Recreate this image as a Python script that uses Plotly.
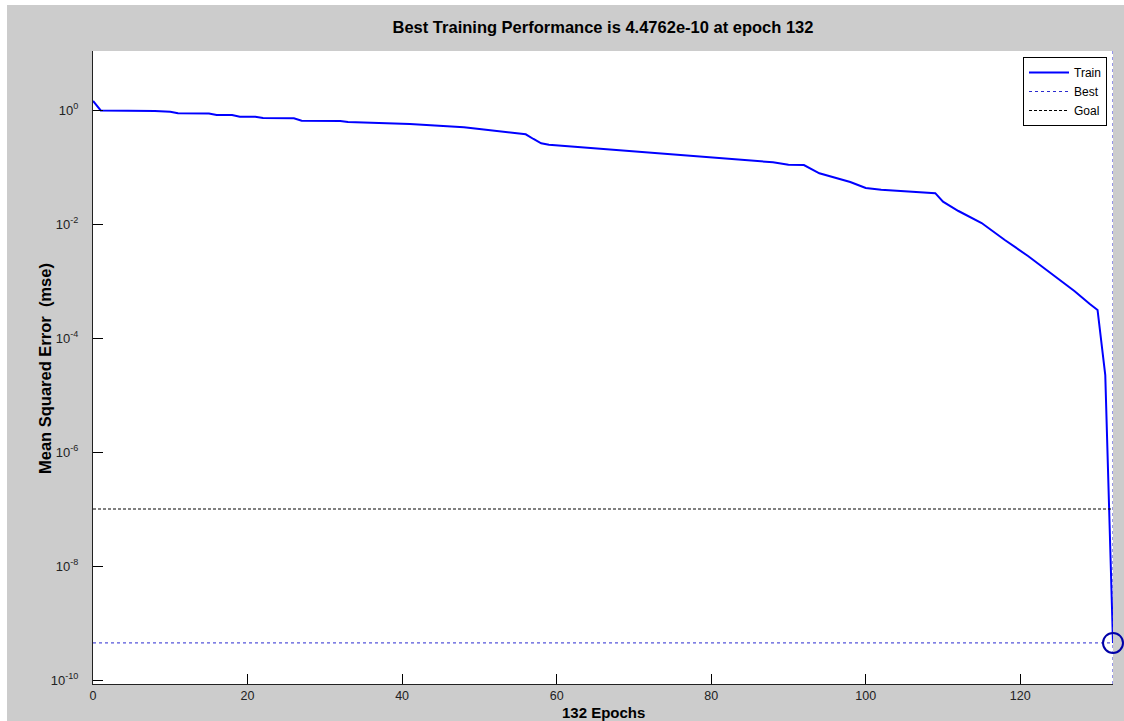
import plotly.graph_objects as go

# Training record (epoch, mean squared error)
epochs = [0, 1, 8, 10, 11, 15, 16, 18, 19, 21, 22, 26, 27, 32, 33, 37, 38, 41, 43, 46,
          48, 50, 52, 54, 56, 57, 58, 59, 61, 63, 65, 67, 70, 73, 76, 78, 80, 82, 84, 86,
          88, 90, 92, 94, 96, 98, 99, 100, 102, 105, 108, 109, 110, 112, 115, 118, 121,
          124, 127, 129, 130, 131, 132]
train_mse = [1.44, 0.98, 0.965, 0.934, 0.875, 0.87, 0.817, 0.817, 0.763, 0.763, 0.724,
             0.715, 0.649, 0.641, 0.616, 0.604, 0.585, 0.568, 0.545, 0.524, 0.497, 0.464,
             0.428, 0.400, 0.375, 0.310, 0.260, 0.246, 0.234, 0.222, 0.209, 0.199, 0.186,
             0.171, 0.162, 0.152, 0.146, 0.140, 0.133, 0.127, 0.121, 0.110, 0.108, 0.0775,
             0.0649, 0.0546, 0.0483, 0.0428, 0.040, 0.0375, 0.035, 0.0347, 0.0246, 0.0169,
             0.0104, 0.00524, 0.00275, 0.00133, 0.000668, 0.000395, 0.00031, 2.24e-5,
             4.4762e-10]
best_epoch = 132
best_perf = 4.4762e-10
goal = 1e-7
x_max = 132

x_ticks = [0, 20, 40, 60, 80, 100, 120]
y_tick_exps = [0, -2, -4, -6, -8, -10]

# figure geometry (pixels)
W, H = 1124, 721
ML, MR, MT, MB = 93, 11, 51, 37
PW, PH = W - ML - MR, H - MT - MB


def px_x(px):
    return (px - ML) / PW


def px_y(py):
    return (H - MB - py) / PH


FONT = "Liberation Sans, Arial, Helvetica, sans-serif"

fig = go.Figure()

fig.add_trace(go.Scatter(
    x=epochs, y=train_mse, mode="lines", name="Train",
    line=dict(color="#0000ff", width=2),
))
fig.add_trace(go.Scatter(
    x=[0, best_epoch, None, best_epoch, best_epoch],
    y=[best_perf, best_perf, None, 10 ** -10.07, 10 ** 1.035],
    mode="lines", name="Best",
    line=dict(color="#2a2ad0", width=1, dash="3px,3px"),
))
fig.add_trace(go.Scatter(
    x=[0, x_max], y=[goal, goal], mode="lines", name="Goal",
    line=dict(color="#000000", width=1, dash="3px,2px"),
))
fig.add_trace(go.Scatter(
    x=[best_epoch], y=[best_perf], mode="markers", showlegend=False,
    marker=dict(symbol="circle-open", size=20, color="#0000a8",
                line=dict(width=2, color="#0000a8")),
    cliponaxis=False,
))

fig.update_layout(
    width=W, height=H,
    margin=dict(l=ML, r=MR, t=MT, b=MB, pad=0),
    paper_bgcolor="#cccccc",
    plot_bgcolor="#ffffff",
    font=dict(family=FONT, size=12, color="#000000"),
    showlegend=True,
    legend=dict(
        x=px_x(1107), xanchor="right", y=px_y(57), yanchor="top",
        bgcolor="#ffffff", bordercolor="#000000", borderwidth=1,
        font=dict(family=FONT, size=12), tracegroupgap=0,
        itemwidth=40,
    ),
    title=dict(
        text=f"<b>Best Training Performance is {best_perf:.4e} at epoch {best_epoch}</b>",
        x=0.5, xref="paper", xanchor="center",
        y=1 - 27 / H, yref="container", yanchor="middle",
        font=dict(family=FONT, size=16.5, color="#000000"),
    ),
    xaxis=dict(
        range=[0, x_max], tickmode="array", tickvals=x_ticks,
        ticktext=[str(t) for t in x_ticks],
        ticks="inside", ticklen=10, tickwidth=1, tickcolor="#000000",
        showline=True, linecolor="#222222", linewidth=1, mirror=False,
        showgrid=False, zeroline=False,
        tickfont=dict(family=FONT, size=12.5, color="#222222"),
    ),
    yaxis=dict(
        type="log", range=[-10.07, 1.035], tickmode="array",
        tickvals=[10 ** e for e in y_tick_exps],
        ticktext=[f"10<sup>{e}</sup>" for e in y_tick_exps],
        ticks="inside", ticklen=10, tickwidth=1, tickcolor="#000000",
        showline=True, linecolor="#222222", linewidth=1, mirror=False,
        showgrid=False, zeroline=False,
        tickfont=dict(family=FONT, size=13, color="#222222"),
        ticklabelstandoff=11,
    ),
    annotations=[
        dict(text="<b>132 Epochs</b>", xref="paper", yref="paper",
             x=0.5, y=px_y(712), xanchor="center", yanchor="middle",
             showarrow=False, font=dict(family=FONT, size=15)),
        dict(text="<b>Mean Squared Error  (mse)</b>", xref="paper", yref="paper",
             x=px_x(45), y=px_y(369), xanchor="center", yanchor="middle",
             textangle=-90, showarrow=False, font=dict(family=FONT, size=16.5)),
    ],
    shapes=[
        # thin white strips along the top and left edges of the window
        dict(type="rect", xref="paper", yref="paper", layer="below",
             x0=px_x(0), x1=px_x(W), y0=px_y(0), y1=px_y(5),
             fillcolor="#ffffff", line=dict(width=0)),
        dict(type="rect", xref="paper", yref="paper", layer="below",
             x0=px_x(0), x1=px_x(7), y0=px_y(0), y1=px_y(H),
             fillcolor="#ffffff", line=dict(width=0)),
    ],
)

fig.write_html("out.html")
